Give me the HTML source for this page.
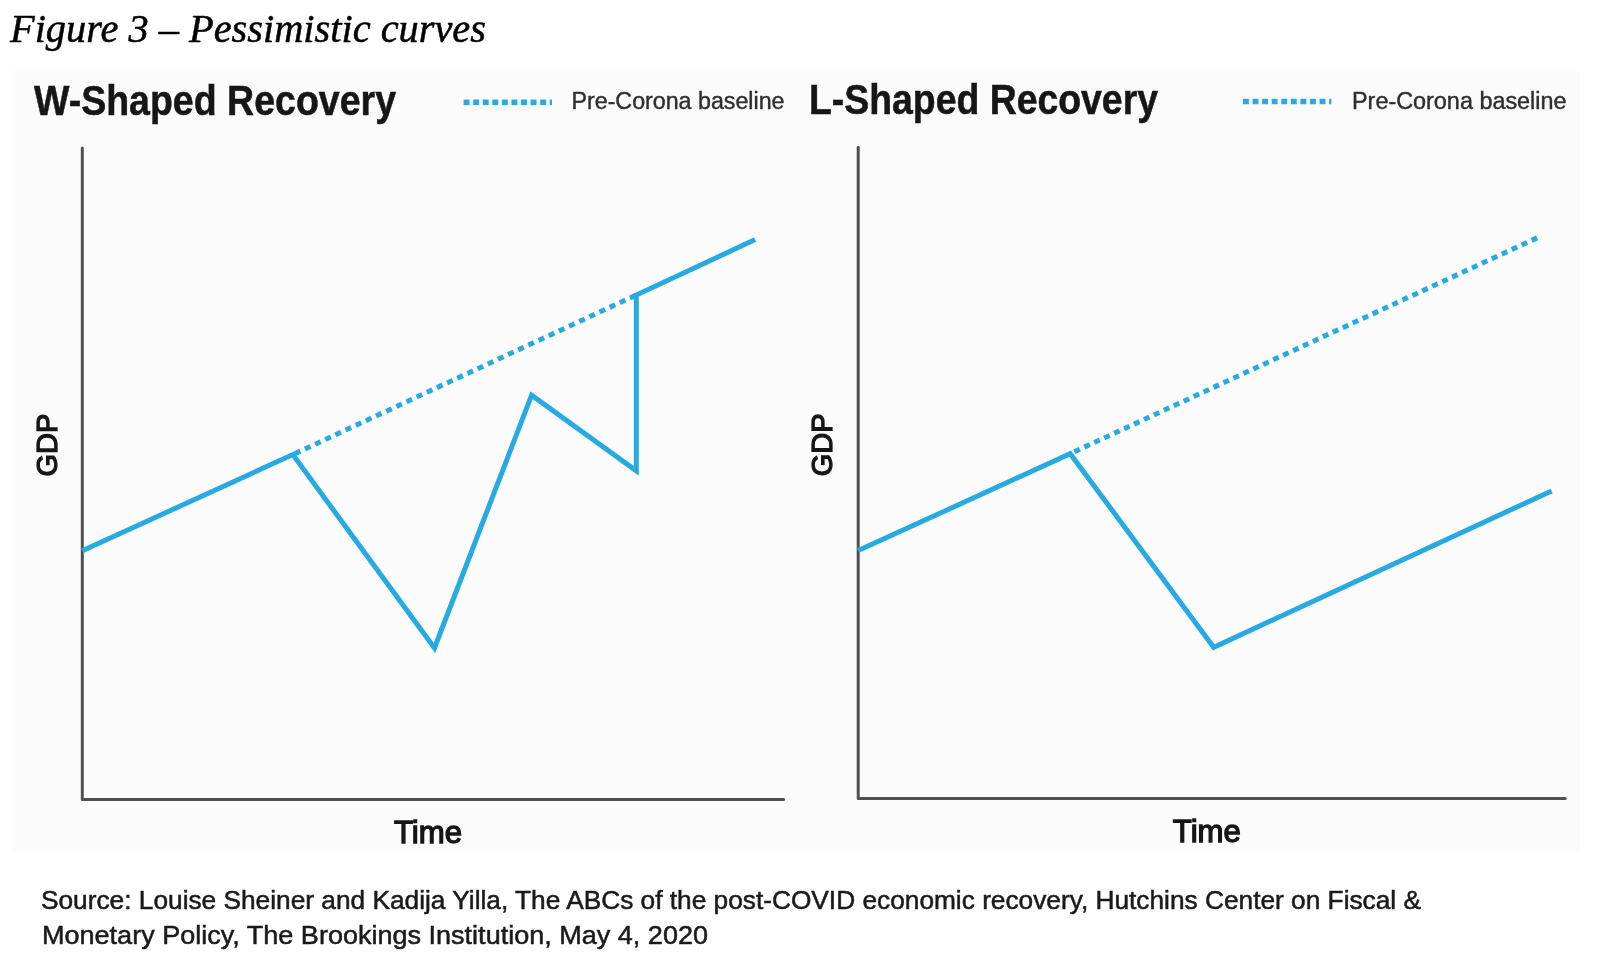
<!DOCTYPE html>
<html>
<head>
<meta charset="utf-8">
<style>
html,body{margin:0;padding:0;background:#fff;width:1600px;height:975px;overflow:hidden;}
svg{display:block;}
#wrap{width:1600px;height:975px;will-change:transform;}
</style>
</head>
<body>
<div id="wrap"><svg width="1600" height="975" viewBox="0 0 1600 975">
  <rect x="0" y="0" width="1600" height="975" fill="#ffffff"/>
  <text x="10" y="42" font-family="Liberation Serif" font-style="italic" font-size="40" fill="#000" stroke="#000" stroke-width="0.5" textLength="476" lengthAdjust="spacingAndGlyphs">Figure 3 – Pessimistic curves</text>

  <rect x="11" y="71" width="1569" height="780" fill="#fbfbfb"/>

  <!-- LEFT CHART -->
  <text x="34" y="114.6" font-family="Liberation Sans" font-weight="bold" font-size="42.5" fill="#161616" stroke="#161616" stroke-width="0.5" textLength="362" lengthAdjust="spacingAndGlyphs">W-Shaped Recovery</text>
  <line x1="463.6" y1="102.3" x2="552" y2="102.3" stroke="#27aae1" stroke-width="5.5" stroke-dasharray="5.9 3.67"/>
  <text x="571.5" y="109" font-family="Liberation Sans" font-size="23" fill="#2e2e2e" stroke="#2e2e2e" stroke-width="0.4" textLength="213" lengthAdjust="spacingAndGlyphs">Pre-Corona baseline</text>

  <polyline points="82.3,148 82.3,799.5 783.6,799.5" fill="none" stroke="#505050" stroke-width="3" stroke-linejoin="round" stroke-linecap="round"/>
  <text x="394" y="843" font-family="Liberation Sans" font-size="30.5" fill="#161616" stroke="#161616" stroke-width="1.3" textLength="68" lengthAdjust="spacingAndGlyphs">Time</text>
  <text transform="translate(56.8,476.5) rotate(-90)" x="0" y="0" font-family="Liberation Sans" font-size="30" fill="#161616" stroke="#161616" stroke-width="1.3" textLength="63" lengthAdjust="spacingAndGlyphs">GDP</text>

  <line x1="294.8" y1="453.7" x2="636.3" y2="295" stroke="#27aae1" stroke-width="5" stroke-dasharray="6.1 5.1"/>
  <polyline points="82.3,550.8 292.8,454.6 434.5,648 531.6,395.2 636.3,470.9 636.3,295 755.2,239.6" fill="none" stroke="#27aae1" stroke-width="5" stroke-linejoin="miter"/>

  <!-- RIGHT CHART -->
  <text x="809" y="113.8" font-family="Liberation Sans" font-weight="bold" font-size="42.5" fill="#161616" stroke="#161616" stroke-width="0.5" textLength="349" lengthAdjust="spacingAndGlyphs">L-Shaped Recovery</text>
  <line x1="1243" y1="101.6" x2="1331.4" y2="101.6" stroke="#27aae1" stroke-width="5.5" stroke-dasharray="5.9 3.67"/>
  <text x="1352" y="108.6" font-family="Liberation Sans" font-size="23" fill="#2e2e2e" stroke="#2e2e2e" stroke-width="0.4" textLength="214.5" lengthAdjust="spacingAndGlyphs">Pre-Corona baseline</text>

  <polyline points="858.2,147.2 858.2,798.5 1565.2,798.5" fill="none" stroke="#505050" stroke-width="3" stroke-linejoin="round" stroke-linecap="round"/>
  <text x="1172.8" y="841.8" font-family="Liberation Sans" font-size="30.5" fill="#161616" stroke="#161616" stroke-width="1.3" textLength="68" lengthAdjust="spacingAndGlyphs">Time</text>
  <text transform="translate(832,476.3) rotate(-90)" x="0" y="0" font-family="Liberation Sans" font-size="30" fill="#161616" stroke="#161616" stroke-width="1.3" textLength="63" lengthAdjust="spacingAndGlyphs">GDP</text>

  <line x1="1074.4" y1="451.7" x2="1537.2" y2="237.8" stroke="#27aae1" stroke-width="5" stroke-dasharray="6 4.95"/>
  <polyline points="858.2,550.6 1070.2,453.7 1213.7,647.3 1551.6,490.9" fill="none" stroke="#27aae1" stroke-width="5" stroke-linejoin="miter"/>

  <text x="41" y="908.5" font-family="Liberation Sans" font-size="25" fill="#1a1a1a" stroke="#1a1a1a" stroke-width="0.5" textLength="1380" lengthAdjust="spacingAndGlyphs">Source: Louise Sheiner and Kadija Yilla, The ABCs of the post-COVID economic recovery, Hutchins Center on Fiscal &amp;</text>
  <text x="42" y="944" font-family="Liberation Sans" font-size="25" fill="#1a1a1a" stroke="#1a1a1a" stroke-width="0.5" textLength="666" lengthAdjust="spacingAndGlyphs">Monetary Policy, The Brookings Institution, May 4, 2020</text>
</svg></div>
</body>
</html>
